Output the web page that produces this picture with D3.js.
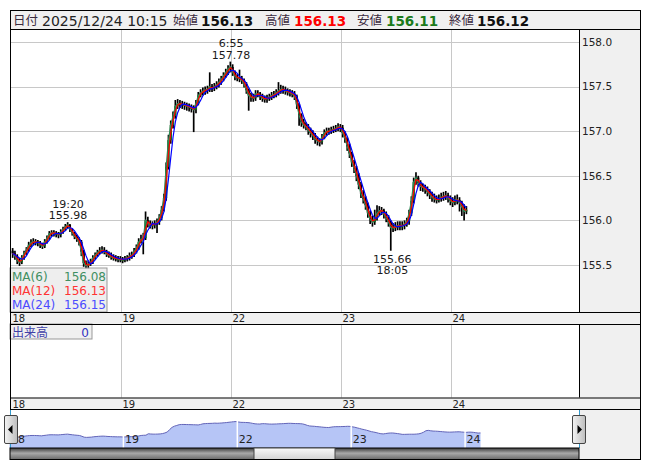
<!DOCTYPE html>
<html><head><meta charset="utf-8">
<script src="https://cdn.jsdelivr.net/npm/d3@7"></script>
<style>body{margin:0;background:#fff;} svg{display:block;font-family:"DejaVu Sans",sans-serif;}</style>
</head><body><svg id="c" width="653" height="470"></svg>
<script>
// ---------------- DATA ----------------
const dayLabels = ["18","19","22","23","24"];      // trading days (each starts 07:00)
const barMinutes = 30;                               // one bar = 30 minutes
const firstOpen = 155.66;
const closes = [
155.63,155.60,155.55,155.53,155.58,155.63,155.67,155.72,155.75,155.76,
155.76,155.75,155.73,155.71,155.76,155.80,155.85,155.86,155.86,155.85,
155.84,155.87,155.90,155.93,155.95,155.90,155.86,155.82,155.79,155.76,
155.65,155.52,155.49,155.51,155.53,155.58,155.61,155.64,155.66,155.67,
155.65,155.62,155.61,155.59,155.58,155.57,155.57,155.56,
155.56,155.57,155.58,155.60,155.61,155.65,155.69,155.76,155.79,155.80,
156.00,155.97,155.95,155.95,155.96,155.98,156.03,156.12,156.25,156.60,
156.90,157.07,157.17,157.28,157.31,157.31,157.30,157.29,157.28,157.27,
157.26,157.24,157.31,157.40,157.43,157.45,157.46,157.47,157.50,157.48,
157.50,157.52,157.55,157.58,157.62,157.66,157.70,157.72,
157.66,157.61,157.60,157.59,157.57,157.53,157.46,157.40,157.38,157.37,
157.42,157.42,157.39,157.37,157.36,157.37,157.38,157.40,157.41,157.43,
157.45,157.47,157.47,157.45,157.44,157.43,157.42,157.39,157.30,157.18,
157.10,157.07,157.05,157.01,156.98,156.95,156.91,156.89,156.88,156.93,
156.98,157.00,157.00,157.01,157.02,157.03,157.05,157.04,
156.98,156.92,156.83,156.75,156.65,156.58,156.50,156.40,156.30,156.24,
156.17,156.08,156.01,155.98,156.03,156.08,156.11,156.11,156.07,156.03,
155.98,155.92,155.92,155.93,155.94,155.94,155.94,155.96,155.99,156.08,
156.22,156.43,156.48,156.42,156.38,156.37,156.35,156.32,156.29,156.26,
156.24,156.23,156.24,156.26,156.27,156.28,156.25,156.22,
156.20,156.23,156.23,156.20,156.15,156.10,156.12];
const highs = [
155.69,155.66,155.62,155.58,155.61,155.66,155.70,155.76,155.79,155.80,
155.79,155.78,155.77,155.75,155.79,155.83,155.88,155.89,155.89,155.88,
155.87,155.90,155.93,155.96,155.98,155.96,155.91,155.87,155.84,155.81,
155.78,155.67,155.55,155.55,155.57,155.61,155.64,155.67,155.70,155.71,
155.70,155.67,155.65,155.64,155.62,155.61,155.60,155.60,
155.59,155.60,155.61,155.64,155.65,155.69,155.73,155.80,155.84,155.86,
156.10,156.04,156.00,155.99,156.00,156.02,156.07,156.16,156.30,156.65,
156.96,157.12,157.22,157.35,157.36,157.35,157.34,157.33,157.32,157.31,
157.30,157.29,157.35,157.44,157.47,157.49,157.50,157.51,157.66,157.53,
157.54,157.56,157.59,157.62,157.66,157.70,157.74,157.78,
157.75,157.68,157.64,157.69,157.62,157.59,157.55,157.48,157.43,157.42,
157.46,157.46,157.44,157.42,157.40,157.41,157.42,157.44,157.45,157.47,
157.55,157.52,157.51,157.50,157.48,157.47,157.46,157.45,157.41,157.32,
157.20,157.14,157.10,157.08,157.04,157.01,156.98,156.94,156.92,156.97,
157.02,157.04,157.04,157.05,157.06,157.07,157.09,157.08,
157.07,157.00,156.94,156.86,156.77,156.68,156.61,156.53,156.43,156.34,
156.27,156.20,156.11,156.05,156.12,156.17,156.16,156.15,156.13,156.10,
156.06,156.00,155.97,155.98,155.99,155.99,155.99,156.00,156.03,156.12,
156.27,156.48,156.54,156.50,156.45,156.41,156.40,156.38,156.35,156.32,
156.30,156.28,156.29,156.31,156.32,156.33,156.31,156.28,
156.26,156.28,156.29,156.26,156.22,156.18,156.16];
const lows = [
155.58,155.56,155.51,155.49,155.51,155.56,155.61,155.65,155.70,155.72,
155.72,155.71,155.69,155.68,155.69,155.74,155.78,155.82,155.82,155.81,
155.80,155.81,155.85,155.88,155.91,155.87,155.83,155.79,155.76,155.72,
155.60,155.48,155.46,155.46,155.49,155.51,155.56,155.59,155.62,155.63,
155.62,155.59,155.58,155.56,155.55,155.54,155.53,155.53,
155.52,155.53,155.54,155.55,155.57,155.59,155.63,155.67,155.74,155.62,
155.78,155.92,155.91,155.90,155.91,155.86,155.95,156.00,156.10,156.22,
156.57,156.86,157.03,157.14,157.25,157.26,157.25,157.24,157.23,157.22,
157.21,156.99,157.20,157.29,157.38,157.40,157.41,157.42,157.44,157.44,
157.45,157.47,157.49,157.52,157.56,157.60,157.63,157.66,
157.62,157.57,157.56,157.55,157.53,157.49,157.42,157.23,157.33,157.33,
157.34,157.38,157.35,157.33,157.32,157.32,157.34,157.35,157.37,157.38,
157.40,157.42,157.42,157.41,157.40,157.39,157.38,157.35,157.25,157.06,
157.05,157.03,157.01,156.96,156.93,156.90,156.86,156.84,156.83,156.85,
156.91,156.95,156.96,156.97,156.98,156.99,157.00,156.99,
156.93,156.87,156.78,156.70,156.60,156.53,156.44,156.35,156.25,156.19,
156.12,156.03,155.96,155.93,155.95,156.00,156.05,156.06,156.02,155.98,
155.93,155.66,155.87,155.88,155.89,155.89,155.89,155.90,155.93,155.95,
156.05,156.19,156.40,156.38,156.33,156.32,156.30,156.27,156.24,156.21,
156.20,156.19,156.20,156.21,156.22,156.23,156.20,156.17,
156.15,156.17,156.18,156.10,156.05,156.00,156.07];
const priceTicks = [158.0,157.5,157.0,156.5,156.0,155.5];
const maPeriods = [6,12,24];                 // in 5-minute units
const maNames = ["MA(6)","MA(12)","MA(24)"];
const maLegendValues = ["156.08","156.13","156.15"];
const headerLabels = ["日付","始値","高値","安値","終値"];
const headerValues = ["2025/12/24 10:15","156.13","156.13","156.11","156.12"];
const annTimes = ["19:20","6:55","18:05"];
const annDays = [0,2,3];
const annValues = [155.98,157.78,155.66];
const annBelow = [false,false,true];
const volumeLabel = "出来高";
const volumeValue = "0";

// ---------------- LAYOUT ----------------
const svg = d3.select("#c");
const L=10, R=641, PR=579, T=10, HB=30, MB=312, A1=324, VB=397.5, A2=410, NB=448, SB=459.5;
const DAY = 1440;
const x = d3.scaleLinear().domain([0, DAY]).range([11.5, 121.5]);
const y = d3.scaleLinear().domain([155.5, 158.0]).range([265, 42]);
const nx = d3.scaleLinear().domain([0, DAY]).range([9.5, 123.4]);
const ny = d3.scaleLinear().domain([154, 158.5]).range([448, 416]);

const bars = closes.map((c,i)=>({i, t:i*barMinutes+barMinutes/2, o: i===0?firstOpen:closes[i-1], c, h:highs[i], l:lows[i]}));

const defs = svg.append("defs");
defs.append("clipPath").attr("id","plot").append("rect").attr("x",L).attr("y",HB).attr("width",PR-L).attr("height",MB-HB);
const g1 = defs.append("linearGradient").attr("id","track").attr("x1",0).attr("y1",0).attr("x2",0).attr("y2",1);
[["0%","#3a3a3a"],["45%","#a8a8a8"],["100%","#6a6a6a"]].forEach(s=>g1.append("stop").attr("offset",s[0]).attr("stop-color",s[1]));
const g2 = defs.append("linearGradient").attr("id","thumb").attr("x1",0).attr("y1",0).attr("x2",0).attr("y2",1);
[["0%","#fafafa"],["100%","#d4d4d4"]].forEach(s=>g2.append("stop").attr("offset",s[0]).attr("stop-color",s[1]));
const g3 = defs.append("linearGradient").attr("id","btn").attr("x1",0).attr("y1",0).attr("x2",1).attr("y2",0);
[["0%","#f4f4f4"],["100%","#bdbdbd"]].forEach(s=>g3.append("stop").attr("offset",s[0]).attr("stop-color",s[1]));

const rect=(x0,y0,w,h,f)=>svg.append("rect").attr("x",x0).attr("y",y0).attr("width",w).attr("height",h).attr("fill",f);
rect(L,T,R-L,SB-T,"#f0f0f0");
rect(L,HB,PR-L,MB-HB,"#fff");
rect(L,A1,PR-L,VB-A1,"#fff");
rect(L,A2,PR-L,NB-A2,"#fff");

// grid
const dayTicks = dayLabels.map((d,k)=>k*DAY);
const grid = svg.append("g").attr("stroke","#c8c8c8").attr("stroke-width",1);
priceTicks.forEach(p=>grid.append("line").attr("x1",L).attr("x2",PR).attr("y1",Math.round(y(p))+0.5).attr("y2",Math.round(y(p))+0.5));
dayTicks.slice(1).forEach(t=>{
  grid.append("line").attr("x1",x(t)).attr("x2",x(t)).attr("y1",HB).attr("y2",MB);
  grid.append("line").attr("x1",x(t)).attr("x2",x(t)).attr("y1",A1).attr("y2",VB);
});

// candles
const plot = svg.append("g").attr("clip-path","url(#plot)");
plot.selectAll("line.w").data(bars).join("line").attr("class","w")
  .attr("x1",d=>x(d.t)).attr("x2",d=>x(d.t)).attr("y1",d=>y(d.h)).attr("y2",d=>y(d.l))
  .attr("stroke","#000").attr("stroke-width",1.7);
plot.selectAll("rect.b").data(bars).join("rect").attr("class","b")
  .attr("x",d=>x(d.t)-1.1).attr("width",2.2)
  .attr("y",d=>y(Math.max(d.o,d.c))).attr("height",d=>Math.max(1.5,Math.abs(y(d.o)-y(d.c))))
  .attr("fill",d=>d.c>=d.o?"#0b6e1e":"#000");

// moving averages (period in 5-minute units -> bars)
const maColors = ["#2e8b57","#ff0000","#0000ff"];
maPeriods.forEach((p,k)=>{
  const w = Math.max(1, Math.round(p*5/barMinutes));
  const ma = bars.map((b,i)=>{const s=closes.slice(Math.max(0,i-w+1),i+1);return {t:b.t, v:d3.mean(s)};});
  plot.append("path").datum(ma).attr("fill","none").attr("stroke",maColors[k]).attr("stroke-width",1.2)
    .attr("d",d3.line().x(d=>x(d.t)).y(d=>y(d.v)));
});

// annotations
annTimes.forEach((tm,k)=>{
  const [hh,mm]=tm.split(":").map(Number);
  const t = annDays[k]*DAY + hh*60+mm - 420;
  const yy = y(annValues[k]);
  const g = svg.append("g").attr("font-size",11).attr("fill","#1a1a1a").attr("text-anchor","middle");
  if(annBelow[k]){
    g.append("text").attr("x",x(t)).attr("y",yy+12).text(annValues[k].toFixed(2));
    g.append("text").attr("x",x(t)).attr("y",yy+23.5).text(tm);
  } else {
    g.append("text").attr("x",x(t)).attr("y",yy-14.5).text(tm);
    g.append("text").attr("x",x(t)).attr("y",yy-3).text(annValues[k].toFixed(2));
  }
});

// y axis labels
const yAxis = d3.axisRight(y).tickValues(priceTicks).tickFormat(d3.format(".1f")).tickSize(0).tickPadding(3);
const ya = svg.append("g").attr("transform",`translate(${PR},0)`).call(yAxis);
ya.select(".domain").remove();
ya.selectAll("text").attr("font-family","DejaVu Sans").attr("font-size",10.5).attr("fill","#222");

// x axis rows
const xAxis = d3.axisBottom(x).tickValues(dayTicks).tickFormat((d,i)=>dayLabels[i]).tickSize(0);
[MB, VB].forEach(yy=>{
  const xa = svg.append("g").attr("transform",`translate(0,${yy})`).call(xAxis);
  xa.select(".domain").remove();
  xa.selectAll("text").attr("font-family","DejaVu Sans").attr("font-size",10).attr("fill","#222")
    .attr("text-anchor","start").attr("dx",0.5).attr("dy",0).attr("y",10);
});

// MA legend
svg.append("rect").attr("x",L).attr("y",268).attr("width",97).attr("height",MB-268)
  .attr("fill","rgba(232,232,232,0.72)").attr("stroke","#999");
const legColors = ["#3f8f62","#ff3333","#4b4bff"];
maNames.forEach((n,k)=>{
  svg.append("text").attr("x",12).attr("y",280.5+k*14).attr("font-size",12).attr("fill",legColors[k]).text(n);
  svg.append("text").attr("x",106).attr("y",280.5+k*14).attr("font-size",12).attr("fill",legColors[k]).attr("text-anchor","end").text(maLegendValues[k]);
});

// volume label
svg.append("rect").attr("x",L).attr("y",A1).attr("width",82).attr("height",15).attr("fill","#f0f0f0").attr("stroke","#999");
svg.append("text").attr("x",12).attr("y",A1+12.5).attr("font-family","Noto Sans CJK JP").attr("font-size",12).attr("fill","#4040a8").text(volumeLabel);
svg.append("text").attr("x",89).attr("y",A1+12.5).attr("font-size",12).attr("fill","#3030c0").attr("text-anchor","end").text(volumeValue);

// navigator
const navData = [{t:0,v:firstOpen}].concat(bars.map(b=>({t:b.t,v:b.c})));
svg.append("path").datum(navData).attr("fill","#b6c5f6")
  .attr("d",d3.area().x(d=>nx(d.t)).y0(NB).y1(d=>ny(d.v)));
svg.append("path").datum(navData).attr("fill","none").attr("stroke","#6264b8").attr("stroke-width",1)
  .attr("d",d3.line().x(d=>nx(d.t)).y(d=>ny(d.v)));
dayTicks.forEach((t,k)=>{
  if(k>0) svg.append("line").attr("x1",nx(t)).attr("x2",nx(t)).attr("y1",A2+10).attr("y2",NB).attr("stroke","#fff").attr("stroke-width",1.5);
  svg.append("text").attr("x",nx(t)+1.5).attr("y",443).attr("font-size",11).attr("fill","#222").text(dayLabels[k]);
});
svg.append("line").attr("x1",L+0.5).attr("x2",L+0.5).attr("y1",A2).attr("y2",NB).attr("stroke","#3399cc");
svg.append("line").attr("x1",PR+0.5).attr("x2",PR+0.5).attr("y1",A2).attr("y2",NB).attr("stroke","#3399cc");

// scrollbar
svg.append("rect").attr("x",L).attr("y",NB).attr("width",PR-L).attr("height",SB-NB).attr("fill","url(#track)").attr("stroke","#000");
svg.append("rect").attr("x",254).attr("y",NB).attr("width",81).attr("height",SB-NB).attr("fill","url(#thumb)").attr("stroke","#444");

// borders
const ln=(x1,y1,x2,y2)=>svg.append("line").attr("x1",x1).attr("y1",y1).attr("x2",x2).attr("y2",y2).attr("stroke","#000").attr("stroke-width",1);
[T+0.5,HB-0.5,MB+0.5,A1+0.5,VB+0.5,A2-0.5].forEach(yy=>ln(L,yy,R,yy));
ln(L,SB,R,SB);
ln(L+0.5,T,L+0.5,A2); ln(R-0.5,T,R-0.5,SB);
ln(PR+0.5,HB,PR+0.5,MB); ln(PR+0.5,A1,PR+0.5,VB);

// nav buttons
[[4,"l"],[572,"r"]].forEach(([bx,dir])=>{
  svg.append("rect").attr("x",bx+0.5).attr("y",415.5).attr("width",13).attr("height",28).attr("rx",1.5).attr("fill","url(#btn)").attr("stroke","#444");
  const cx=bx+7, cy=429.5;
  const pts = dir==="l"?[[cx-3,cy],[cx+1.5,cy-4.5],[cx+1.5,cy+4.5]]:[[cx+3,cy],[cx-1.5,cy-4.5],[cx-1.5,cy+4.5]];
  svg.append("polygon").attr("points",pts.map(p=>p.join(",")).join(" ")).attr("fill","#000");
});

// header
const hx = [13,42,173,201,265,294,357,386,449,477];
const valColors = ["#222","#111","#ff0000","#1b7a1b","#111"];
headerLabels.forEach((lb,k)=>{
  svg.append("text").attr("x",hx[k*2]).attr("y",25).attr("font-family","Noto Sans CJK JP").attr("font-size",12.5).attr("fill","#3a2a3e").text(lb);
  const v = svg.append("text").attr("x",hx[k*2+1]).attr("y",25.5).attr("fill",valColors[k]).text(headerValues[k]);
  if(k===0) v.attr("font-size",14); else v.attr("font-size",13.5).attr("font-weight","bold");
});
</script></body></html>
